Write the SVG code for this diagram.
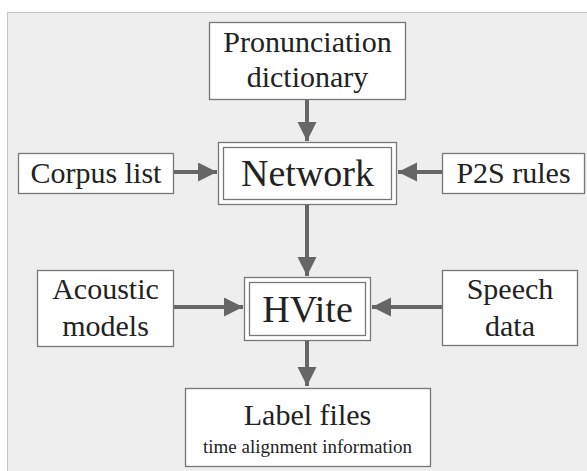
<svg xmlns="http://www.w3.org/2000/svg" width="587" height="471" viewBox="0 0 587 471">
<style>
.box{fill:#fff;stroke:#777;stroke-width:1.3}
.conn{stroke:#666;stroke-width:4;fill:none}
</style>
<defs>
<marker id="ah" markerUnits="userSpaceOnUse" markerWidth="20" markerHeight="20" refX="19" refY="9.5" orient="auto">
<path d="M0,0 L19,9.5 L0,19 Z" fill="#666"/>
</marker>
</defs>
<rect x="7.5" y="12.5" width="580" height="462" fill="#eeeeee" stroke="#c4c4c4" stroke-width="1"/>
<g font-family="Liberation Serif" fill="#222" text-anchor="middle" font-size="30">
<g id="pron"><rect class="box" x="209.5" y="22.5" width="196" height="77"/><text x="307.5" y="52">Pronunciation</text><text x="307.5" y="87">dictionary</text></g>
<g id="corpus"><rect class="box" x="18.5" y="153.5" width="155" height="40"/><text x="96" y="183">Corpus list</text></g>
<g id="network"><rect class="box" x="218.5" y="142.5" width="178" height="62"/><rect class="box" x="223.5" y="147.5" width="168" height="52"/><text font-size="38" x="307.5" y="186">Network</text></g>
<g id="p2s"><rect class="box" x="442.5" y="153.5" width="142" height="40"/><text x="513.5" y="183">P2S rules</text></g>
<g id="acoustic"><rect class="box" x="37.5" y="270.5" width="136" height="76"/><text x="105.5" y="299">Acoustic</text><text x="105.5" y="336">models</text></g>
<g id="hvite"><rect class="box" x="244.5" y="277.5" width="126" height="63"/><rect class="box" x="249.5" y="282.5" width="116" height="53"/><text font-size="38" x="307.5" y="322">HVite</text></g>
<g id="speech"><rect class="box" x="442.5" y="270.5" width="135" height="75"/><text x="510" y="299">Speech</text><text x="510" y="336">data</text></g>
<g id="label"><rect class="box" x="185.5" y="388.5" width="245" height="78"/><text x="307.5" y="425">Label files</text><text font-size="19" x="307.5" y="453">time alignment information</text></g>
</g>
<g id="connectors">
<line class="conn" x1="307" y1="100" x2="307" y2="141" marker-end="url(#ah)"/>
<line class="conn" x1="174" y1="172" x2="217" y2="172" marker-end="url(#ah)"/>
<line class="conn" x1="442" y1="172" x2="398" y2="172" marker-end="url(#ah)"/>
<line class="conn" x1="307" y1="205" x2="307" y2="276" marker-end="url(#ah)"/>
<line class="conn" x1="174" y1="307" x2="243" y2="307" marker-end="url(#ah)"/>
<line class="conn" x1="442" y1="307" x2="372" y2="307" marker-end="url(#ah)"/>
<line class="conn" x1="307" y1="341" x2="307" y2="386" marker-end="url(#ah)"/>
</g>
</svg>
